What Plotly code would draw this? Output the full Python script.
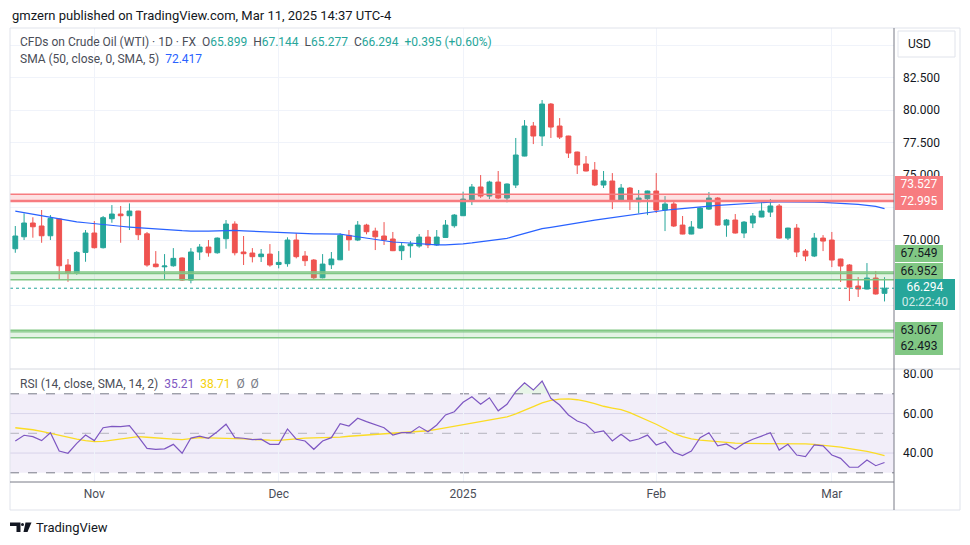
import plotly.graph_objects as go
import pandas as pd

# ---------------- data ----------------
holidays = ["2024-12-25", "2025-01-01"]
dates = [d.strftime("%Y-%m-%d") for d in pd.bdate_range("2024-10-21", "2025-03-11")
         if d.strftime("%Y-%m-%d") not in holidays]

open_ = [69.33, 70.25, 71.31, 71.08, 70.33, 71.62, 68.08, 67.48, 69.05, 70.54,
         69.41, 71.64, 72.00, 71.87, 72.23, 70.48, 68.15, 67.94, 68.02, 68.62,
         66.92, 69.08, 69.46, 69.02, 70.10, 71.23, 69.08, 69.00, 68.72, 68.92,
         68.12, 68.18, 70.00, 68.77, 68.46, 67.10, 68.10, 68.48, 70.36, 70.00,
         71.15, 70.69, 70.31, 70.08, 69.18, 69.56, 69.54, 70.23, 69.62, 70.20,
         71.10, 71.87, 73.08, 74.08, 73.38, 74.46, 73.23, 74.23, 76.46, 78.77,
         78.00, 80.46, 78.77, 78.00, 76.77, 75.85, 75.38, 74.23, 74.54, 73.00,
         74.00, 72.95, 73.18, 73.77, 72.31, 72.77, 71.15, 70.46, 70.92, 72.38,
         73.23, 71.15, 71.54, 70.54, 71.31, 71.77, 72.15, 72.62, 70.15, 70.92,
         69.15, 68.77, 70.15, 70.00, 68.54, 68.08, 66.46, 66.23, 67.08, 65.899]
high = [71.08, 72.05, 71.75, 72.31, 71.92, 71.65, 68.54, 69.15, 70.77, 71.46,
        71.85, 72.69, 72.62, 72.82, 72.25, 70.62, 69.15, 68.92, 69.38, 68.67,
        69.38, 69.69, 70.00, 70.20, 71.54, 71.44, 70.31, 69.38, 69.31, 69.69,
        69.15, 70.21, 70.52, 69.15, 68.54, 68.92, 69.08, 70.52, 70.77, 71.46,
        71.25, 70.95, 71.38, 70.62, 69.85, 69.92, 70.46, 70.77, 70.77, 71.54,
        72.00, 73.72, 74.31, 75.00, 74.56, 75.31, 74.35, 77.85, 79.23, 79.08,
        80.77, 80.54, 79.38, 78.02, 76.80, 76.46, 76.00, 75.31, 75.15, 74.31,
        74.08, 73.85, 73.80, 75.15, 73.38, 73.00, 71.85, 71.46, 72.54, 73.69,
        73.30, 71.62, 72.00, 71.46, 72.08, 73.08, 73.15, 72.77, 70.95, 71.23,
        69.31, 70.54, 70.38, 70.62, 68.56, 68.15, 67.15, 68.23, 67.62, 67.144]
low = [69.02, 70.00, 70.18, 69.79, 70.00, 66.98, 66.79, 67.33, 68.33, 69.35,
       69.35, 71.33, 69.79, 70.77, 70.00, 67.95, 67.90, 66.98, 67.95, 66.85,
       66.67, 68.46, 68.72, 68.95, 69.33, 68.82, 68.08, 68.28, 68.31, 67.95,
       67.82, 67.95, 68.59, 68.00, 67.00, 67.05, 67.77, 68.45, 69.18, 69.92,
       70.44, 69.23, 69.62, 69.15, 68.46, 68.64, 69.41, 69.38, 69.54, 70.18,
       70.95, 71.85, 72.69, 73.23, 73.15, 73.15, 72.90, 74.00, 76.44, 77.38,
       77.23, 77.85, 77.77, 76.31, 75.08, 75.28, 74.15, 74.00, 72.38, 72.92,
       72.31, 72.05, 71.92, 72.08, 70.69, 71.00, 70.44, 70.44, 70.85, 72.31,
       71.10, 70.25, 70.50, 70.15, 70.92, 71.75, 71.77, 70.10, 70.00, 68.69,
       68.38, 68.69, 69.15, 67.92, 66.77, 65.31, 65.62, 66.20, 65.80, 65.277]
close = [70.31, 71.31, 71.02, 70.33, 71.67, 68.02, 67.48, 69.05, 70.54, 69.41,
         71.72, 72.00, 71.87, 72.23, 70.41, 68.08, 67.95, 68.00, 68.59, 66.92,
         69.08, 69.46, 69.02, 70.15, 71.23, 69.02, 68.95, 68.72, 68.92, 68.08,
         68.28, 70.00, 68.72, 68.41, 67.10, 68.15, 68.54, 70.36, 70.02, 71.15,
         70.64, 70.25, 70.00, 69.18, 69.54, 69.69, 70.23, 69.62, 70.23, 71.15,
         71.92, 73.15, 74.08, 73.38, 74.46, 73.23, 74.31, 76.54, 78.77, 78.00,
         80.46, 78.69, 77.92, 76.69, 75.77, 75.31, 74.23, 74.54, 73.00, 74.00,
         73.00, 73.23, 73.77, 72.31, 72.77, 71.08, 70.46, 71.00, 72.46, 73.23,
         71.15, 71.54, 70.54, 71.38, 71.85, 72.23, 72.62, 70.15, 70.92, 69.08,
         68.77, 70.15, 69.92, 68.46, 68.00, 66.38, 66.23, 67.08, 65.85, 66.294]
sma50 = [72.23, 72.11, 71.99, 71.86, 71.74, 71.60, 71.48, 71.40, 71.33, 71.25,
         71.18, 71.12, 71.06, 71.00, 70.95, 70.88, 70.84, 70.78, 70.75, 70.72,
         70.69, 70.67, 70.68, 70.71, 70.73, 70.74, 70.70, 70.67, 70.64, 70.61,
         70.57, 70.53, 70.50, 70.48, 70.48, 70.47, 70.46, 70.46, 70.35, 70.25,
         70.14, 70.04, 69.94, 69.85, 69.81, 69.76, 69.72, 69.67, 69.63, 69.63,
         69.65, 69.71, 69.78, 69.86, 69.95, 70.05, 70.13, 70.32, 70.51, 70.69,
         70.88, 70.98, 71.10, 71.22, 71.33, 71.43, 71.53, 71.63, 71.73, 71.83,
         71.94, 72.04, 72.12, 72.21, 72.29, 72.36, 72.43, 72.50, 72.56, 72.62,
         72.66, 72.71, 72.76, 72.81, 72.85, 72.89, 72.92, 72.93, 72.94, 72.95,
         72.93, 72.92, 72.89, 72.87, 72.83, 72.78, 72.74, 72.69, 72.59, 72.417]
rsi = [46.1, 49.0, 48.3, 46.3, 50.3, 41.0, 39.9, 44.9, 49.1, 46.3,
       52.8, 53.5, 53.4, 53.9, 48.3, 42.4, 41.9, 42.1, 44.4, 39.9,
       47.6, 48.6, 47.5, 50.8, 54.6, 47.8, 47.5, 46.8, 47.0, 44.4,
       44.4, 52.2, 47.0, 46.1, 41.9, 46.1, 47.8, 54.9, 53.7, 57.6,
       55.9, 54.2, 52.8, 49.1, 50.3, 50.3, 53.4, 50.8, 54.2, 59.3,
       60.9, 65.7, 68.5, 64.7, 68.0, 61.4, 64.7, 71.1, 75.6, 71.9,
       76.5, 67.7, 64.3, 59.3, 56.2, 54.6, 50.3, 51.2, 46.1, 49.5,
       46.1, 47.1, 49.1, 44.1, 45.7, 40.4, 38.7, 41.0, 47.8, 50.3,
       43.6, 44.6, 41.9, 44.9, 47.0, 48.6, 50.3, 41.5, 44.4, 39.0,
       38.2, 44.1, 43.6, 39.0, 37.3, 32.8, 32.8, 36.5, 33.6, 35.21]
rsi_ma = [52.8, 52.4, 51.8, 51.0, 50.0, 49.0, 47.8, 47.0, 46.3, 45.8,
          45.9, 46.5, 47.2, 48.0, 48.3, 48.0, 47.6, 47.3, 47.1, 46.8,
          47.3, 47.8, 47.7, 47.6, 47.5, 47.5, 47.2, 46.9, 46.6, 46.5,
          46.4, 46.8, 47.3, 47.6, 47.7, 47.8, 47.8, 48.1, 48.5, 48.8,
          49.1, 49.4, 49.7, 50.0, 50.3, 50.5, 50.8, 51.3, 52.0, 52.8,
          53.6, 54.3, 55.4, 56.2, 56.9, 57.6, 58.3, 59.8, 61.5, 63.5,
          65.4, 66.7, 67.3, 67.4, 67.0, 66.2, 65.0, 63.7, 62.8, 62.0,
          60.5, 58.6, 56.5, 54.6, 52.3, 50.0, 48.3, 47.2, 46.5, 46.1,
          45.7, 45.4, 45.0, 44.9, 44.9, 44.9, 44.9, 44.8, 44.7, 44.7,
          44.6, 44.4, 44.0, 43.4, 43.0, 42.2, 41.6, 40.8, 39.8, 38.71]

red_zone = [72.995, 73.527]
green_zone_hi = [66.952, 67.549]
green_zone_lo = [62.493, 63.067]
zone_inner_lines = [67.41, 62.93]
last_price = 66.294
day_change = "+0.395 (+0.60%)"
countdown = "02:22:40"
month_ticks = ["2024-11-01", "2024-12-02", "2025-01-02", "2025-02-03", "2025-03-03"]
month_labels = ["Nov", "Dec", "2025", "Feb", "Mar"]
price_ticks = [62.5, 65.0, 67.5, 70.0, 72.5, 75.0, 77.5, 80.0, 82.5, 85.0]
price_ticks_hidden = [62.5, 65.0, 67.5, 72.5, 85.0]   # covered by labels in the reference
rsi_ticks = [40, 60, 80]
rsi_bands = [30, 50, 70]

# ---------------- styling / geometry ----------------
UP, DOWN = "#26a69a", "#ef5350"
FONT = "Roboto"
PAGE = 8          # default page margin of the html body
L, R, T, B = 10, 894, 28, 482   # plot area in window pixels
W, H = R - L, B - T
SPLIT = 369


def px(x):
    return (x - L) / W


def py(y):
    return (B - y) / H


rsi_top = (B - SPLIT) / H

fig = go.Figure()

fig.add_trace(go.Candlestick(
    x=dates, open=open_, high=high, low=low, close=close,
    increasing=dict(line=dict(color=UP, width=1), fillcolor=UP),
    decreasing=dict(line=dict(color=DOWN, width=1), fillcolor=DOWN),
    whiskerwidth=0, showlegend=False, xaxis="x", yaxis="y"))

fig.add_trace(go.Scatter(x=dates, y=sma50, mode="lines",
                         line=dict(color="#2962ff", width=1.2),
                         showlegend=False, hoverinfo="skip", xaxis="x", yaxis="y"))

# RSI pane
fig.add_trace(go.Scatter(x=dates, y=[70] * len(dates), mode="lines",
                         line=dict(width=0), showlegend=False, hoverinfo="skip",
                         xaxis="x2", yaxis="y2"))
fig.add_trace(go.Scatter(x=dates, y=[max(v, 70) for v in rsi], mode="lines",
                         line=dict(width=0), fill="tonexty",
                         fillcolor="rgba(76,175,80,0.13)", showlegend=False,
                         hoverinfo="skip", xaxis="x2", yaxis="y2"))
fig.add_trace(go.Scatter(x=dates, y=rsi_ma, mode="lines",
                         line=dict(color="#fbdc24", width=1.3),
                         showlegend=False, xaxis="x2", yaxis="y2"))
fig.add_trace(go.Scatter(x=dates, y=rsi, mode="lines",
                         line=dict(color="#7e57c2", width=1.2),
                         showlegend=False, xaxis="x2", yaxis="y2"))

shapes = []
# zones
for zone, fill, col in [(red_zone, "rgba(247,124,128,0.22)", "#f77c80"),
                        (green_zone_hi, "rgba(129,199,132,0.22)", "#81c784"),
                        (green_zone_lo, "rgba(129,199,132,0.22)", "#81c784")]:
    shapes.append(dict(type="rect", xref="paper", yref="y", x0=0, x1=1,
                       y0=zone[0], y1=zone[1], fillcolor=fill, line=dict(width=0),
                       layer="above"))
    shapes.append(dict(type="line", xref="paper", yref="y", x0=0, x1=1,
                       y0=zone[1], y1=zone[1], line=dict(color=col, width=1.5),
                       layer="above"))
    shapes.append(dict(type="line", xref="paper", yref="y", x0=0, x1=1,
                       y0=zone[0], y1=zone[0],
                       line=dict(color=col, width=2.5 if col == "#f77c80" else 1.5),
                       layer="above"))
for v in zone_inner_lines:
    shapes.append(dict(type="line", xref="paper", yref="y", x0=0, x1=1, y0=v, y1=v,
                       line=dict(color="#81c784", width=1.2), layer="above"))
# last price dotted line
shapes.append(dict(type="line", xref="paper", yref="y", x0=0, x1=1,
                   y0=last_price, y1=last_price,
                   line=dict(color=UP, width=1, dash="dot"), layer="above"))
# RSI band and lines
shapes.append(dict(type="rect", xref="paper", yref="y2", x0=0, x1=1,
                   y0=rsi_bands[0], y1=rsi_bands[2],
                   fillcolor="rgba(126,87,194,0.10)", line=dict(width=0), layer="below"))
for v in [40, 60]:
    shapes.append(dict(type="line", xref="paper", yref="y2", x0=0, x1=1, y0=v, y1=v,
                       line=dict(color="rgba(200,195,225,0.6)", width=1), layer="below"))
for v in rsi_bands:
    shapes.append(dict(type="line", xref="paper", yref="y2", x0=0, x1=1, y0=v, y1=v,
                       line=dict(color="rgba(120,123,134,0.5)" if v == 50 else "#787b86",
                                 width=1, dash="dash"), layer="below"))
# frame and separators
shapes.append(dict(type="rect", xref="paper", yref="paper", x0=px(10), x1=px(960),
                   y0=py(510), y1=py(28), line=dict(color="#e0e3eb", width=1)))
shapes.append(dict(type="line", xref="paper", yref="paper", x0=0, x1=px(960),
                   y0=py(SPLIT), y1=py(SPLIT), line=dict(color="#d6d9e0", width=1)))
shapes.append(dict(type="line", xref="paper", yref="paper", x0=1, x1=1,
                   y0=py(510), y1=py(28), line=dict(color="#787b86", width=1)))
shapes.append(dict(type="line", xref="paper", yref="paper", x0=0, x1=1,
                   y0=0, y1=0, line=dict(color="#787b86", width=1)))
# USD box
shapes.append(dict(type="rect", xref="paper", yref="paper", x0=px(898), x1=px(955),
                   y0=py(57), y1=py(31), line=dict(color="#e0e3eb", width=1),
                   fillcolor="white"))


# TradingView logo
def path(points):
    s = "M " + " L ".join(f"{px(x):.5f},{py(y):.5f}" for x, y in points) + " Z"
    return s


logo_col = "#131722"
shapes.append(dict(type="path", xref="paper", yref="paper",
                   path=path([(10, 522.5), (20.5, 522.5), (20.5, 532), (16.5, 532),
                              (16.5, 526), (10, 526)]),
                   fillcolor=logo_col, line=dict(width=0)))
shapes.append(dict(type="circle", xref="paper", yref="paper", x0=px(21), x1=px(24),
                   y0=py(526), y1=py(523), fillcolor=logo_col, line=dict(width=0)))
shapes.append(dict(type="path", xref="paper", yref="paper",
                   path=path([(25.5, 522.5), (31.5, 522.5), (27.5, 532), (23.5, 532)]),
                   fillcolor=logo_col, line=dict(width=0)))

annotations = []


def text(x, y, s, size=12, color="#131722", anchor="left"):
    annotations.append(dict(xref="paper", yref="paper", x=px(x), y=py(y), text=s,
                            showarrow=False, xanchor=anchor, yanchor="middle",
                            font=dict(family=FONT, size=size, color=color)))


NB = "\u00a0"
teal = lambda s: f"<span style='color:{UP}'>{s}</span>"
text(10, 15, "gmzern published on TradingView.com, Mar 11, 2025 14:37 UTC-4", 13)
text(18, 42,
     "CFDs on Crude Oil (WTI) · 1D · FX" + NB * 2 +
     "O" + teal(f"{open_[-1]:.3f}") + NB * 2 +
     "H" + teal(f"{high[-1]:.3f}") + NB * 2 +
     "L" + teal(f"{low[-1]:.3f}") + NB * 2 +
     "C" + teal(f"{close[-1]:.3f}") + NB * 2 +
     teal(day_change), 12, "#4a4d57")
text(18, 59, "SMA (50, close, 0, SMA, 5)" + NB * 2 +
     f"<span style='color:#2962ff'>{sma50[-1]:.3f}</span>", 12, "#4a4d57")
text(18, 384, "RSI (14, close, SMA, 14, 2)" + NB * 2 +
     f"<span style='color:#7e57c2'>{rsi[-1]:.2f}</span>" + NB * 2 +
     f"<span style='color:#f5d20a'>{rsi_ma[-1]:.2f}</span>" + NB * 2 +
     "<span style='color:#787b86'>Ø" + NB * 2 + "Ø</span>", 12, "#4a4d57")
text(906, 44, "USD", 12)
text(34, 527.5, "TradingView", 13)


def price_label(level, s, bg, fg, shift, width=48, height=16.7):
    annotations.append(dict(xref="paper", yref="y", x=px(895), y=level, yshift=shift,
                            text=s, showarrow=False, xanchor="left", yanchor="middle",
                            width=width, height=height, bgcolor=bg, borderwidth=0,
                            borderpad=0, align="center",
                            font=dict(family=FONT, size=12, color=fg)))


price_label(red_zone[1], f"{red_zone[1]:.3f}", "#f77c80", "white", 9.5)
price_label(red_zone[0], f"{red_zone[0]:.3f}", "#f77c80", "white", -0.5)
price_label(green_zone_hi[1], f"{green_zone_hi[1]:.3f}", "#81c784", "#131722", 18.2)
price_label(green_zone_hi[0], f"{green_zone_hi[0]:.3f}", "#81c784", "#131722", 8.4)
price_label(last_price, f"{last_price:.3f}<br><span style='color:rgba(255,255,255,0.8)'>"
            f"{countdown}</span>", UP, "white", -6.3, width=60, height=31)
price_label(green_zone_lo[1], f"{green_zone_lo[1]:.3f}", "#81c784", "#131722", 0)
price_label(green_zone_lo[0], f"{green_zone_lo[0]:.3f}", "#81c784", "#131722", -9.0)

xcommon = dict(type="category", categoryorder="array", categoryarray=dates,
               range=[-0.604, 100.08], tickvals=month_ticks, ticktext=month_labels,
               showgrid=True, gridcolor="#f0f3fa", gridwidth=1, zeroline=False,
               showline=False, ticks="", fixedrange=True)

fig.update_layout(
    width=970 - PAGE, height=545 - PAGE, autosize=False,
    margin=dict(l=L - PAGE, r=970 - R, t=T - PAGE, b=545 - B),
    paper_bgcolor="white", plot_bgcolor="white",
    font=dict(family=FONT, size=12, color="#131722"),
    showlegend=False, boxgap=0.22,
    xaxis=dict(**xcommon, domain=[0, 1], anchor="y", showticklabels=False,
               rangeslider=dict(visible=False)),
    xaxis2=dict(**xcommon, domain=[0, 1], anchor="y2", matches="x",
                showticklabels=True, ticklabelstandoff=3,
                tickfont=dict(family=FONT, size=12, color="#4a4d57")),
    yaxis=dict(domain=[rsi_top, 1], range=[60.08, 86.31], side="right",
               tickvals=price_ticks,
               ticktext=["" if v in price_ticks_hidden else f"{v:.3f}" for v in price_ticks],
               showgrid=True, gridcolor="#f0f3fa", zeroline=False, ticks="",
               ticklabelstandoff=8, tickfont=dict(family=FONT, size=12, color="#131722"),
               fixedrange=True),
    yaxis2=dict(domain=[0, rsi_top], range=[25.34, 82.56], side="right",
                tickvals=rsi_ticks, ticktext=[f"{v:.2f}" for v in rsi_ticks],
                showgrid=False, zeroline=False, ticks="", ticklabelstandoff=8,
                tickfont=dict(family=FONT, size=12, color="#131722"), fixedrange=True),
    shapes=shapes, annotations=annotations,
)

fig.write_html("out.html")
